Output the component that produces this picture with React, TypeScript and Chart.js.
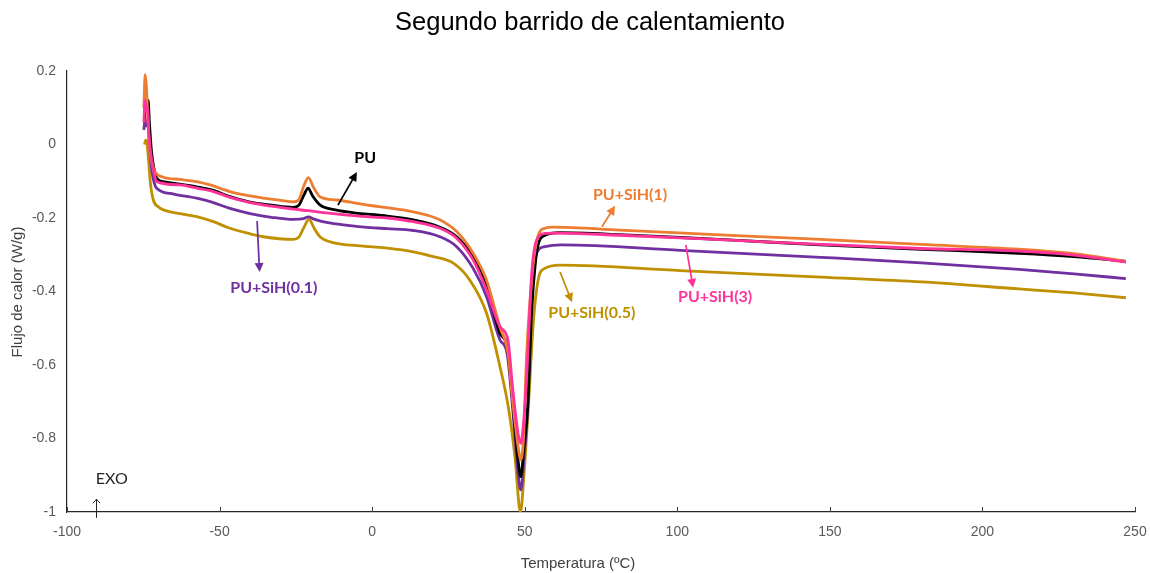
import { useEffect, useRef } from 'react';
import { Chart, registerables } from 'chart.js';

Chart.register(...registerables);

type Pt = [number, number];

// Titles and axis captions
const chartTitle = 'Segundo barrido de calentamiento';
const xAxisTitle = 'Temperatura (ºC)';
const yAxisTitle = 'Flujo de calor (W/g)';

// Axis ranges and tick steps
const xRange: Pt = [-100, 250];
const yRange: Pt = [-1, 0.2];
const xStep = 50;
const yStep = 0.2;

// Heat flow (W/g) against temperature (ºC), one list per sample
const puSiH3: Pt[] = [
  [-74.8, 0.06], [-74.4, 0.12], [-74.0, 0.09], [-73.6, 0.1], [-73.2, 0.03], [-72.3, -0.04],
  [-71.3, -0.085], [-70.6, -0.101], [-63, -0.11], [-57.5, -0.119], [-52, -0.128], [-46.6, -0.144],
  [-40, -0.158], [-33, -0.168], [-25.8, -0.176], [-21, -0.18], [-15, -0.186], [-8, -0.192],
  [-0.7, -0.197], [5, -0.2], [13.5, -0.21], [22.2, -0.228], [27.7, -0.255], [33.1, -0.314],
  [37.5, -0.396], [41.9, -0.496], [44.5, -0.532], [46, -0.659], [47.8, -0.786], [48.7, -0.813],
  [49.6, -0.76], [50.7, -0.623], [52.3, -0.35], [53.9, -0.26], [56.6, -0.242], [59.3, -0.241],
  [81, -0.247], [114, -0.259], [147, -0.272], [180, -0.283], [212, -0.29], [230, -0.301], [247, -0.32],
];

const puSiH1: Pt[] = [
  [-74.8, 0.1], [-74.4, 0.19], [-74.0, 0.16], [-73.5, 0.07], [-72.8, -0.02], [-71.8, -0.06],
  [-71.2, -0.074], [-68.4, -0.089], [-63, -0.095], [-57.5, -0.101], [-53.1, -0.11], [-46.6, -0.128],
  [-40, -0.14], [-35.7, -0.146], [-30, -0.152], [-25.8, -0.156], [-24, -0.15], [-22.5, -0.115],
  [-20.9, -0.09], [-19.3, -0.115], [-17.1, -0.142], [-11.6, -0.151], [-5, -0.16], [-0.7, -0.166],
  [6, -0.173], [13.5, -0.183], [18, -0.192], [22.2, -0.205], [27.7, -0.237], [33.1, -0.296],
  [37.5, -0.369], [40.3, -0.45], [42, -0.5], [44.5, -0.567], [46, -0.695], [47.8, -0.82],
  [48.7, -0.858], [49.6, -0.8], [50.6, -0.577], [52.7, -0.332], [54.3, -0.251], [56.6, -0.228],
  [59.3, -0.225], [81, -0.233], [114, -0.246], [147, -0.258], [180, -0.272], [212, -0.285],
  [230, -0.297], [247, -0.318],
];

const pu: Pt[] = [
  [-74.6, 0.07], [-74.3, 0.14], [-73.9, 0.1], [-73.4, 0.12], [-73.0, 0.06], [-72.3, -0.02],
  [-71.5, -0.065], [-70.6, -0.092], [-68, -0.102], [-63, -0.108], [-57.5, -0.115], [-52, -0.125],
  [-46.6, -0.142], [-40, -0.157], [-33, -0.165], [-26, -0.171], [-24, -0.165], [-22.5, -0.14],
  [-21, -0.119], [-19.5, -0.14], [-17, -0.165], [-12, -0.178], [-6, -0.186], [-0.7, -0.19],
  [5, -0.195], [13.5, -0.205], [22.2, -0.225], [27.7, -0.251], [33.1, -0.305], [37.5, -0.387],
  [41.9, -0.514], [44.2, -0.55], [46, -0.695], [47.8, -0.858], [48.7, -0.904], [49.8, -0.82],
  [51, -0.713], [52.3, -0.45], [53.4, -0.33], [54.5, -0.27], [56.5, -0.248], [61.5, -0.24],
  [81, -0.245], [101, -0.253], [120, -0.261], [147, -0.273], [180, -0.285], [212, -0.296],
  [230, -0.305], [247, -0.318],
];

const puSiH01: Pt[] = [
  [-74.8, 0.04], [-74.4, 0.07], [-74.0, 0.05], [-73.5, 0.06], [-73.0, 0.0], [-72.2, -0.07],
  [-71.4, -0.105], [-70.6, -0.119], [-65, -0.135], [-57.5, -0.146], [-52, -0.158], [-46.6, -0.174],
  [-40, -0.188], [-33, -0.198], [-25.8, -0.204], [-22.5, -0.202], [-20.9, -0.197], [-19, -0.203],
  [-15, -0.212], [-8, -0.22], [-0.7, -0.226], [5, -0.229], [13.5, -0.234], [22.2, -0.251],
  [27.7, -0.278], [33.1, -0.337], [37.5, -0.414], [41.9, -0.532], [44.2, -0.567], [46, -0.713],
  [47.8, -0.894], [48.7, -0.94], [49.8, -0.85], [51, -0.713], [52.3, -0.396], [53.9, -0.296],
  [56.6, -0.278], [62, -0.273], [101, -0.288], [147, -0.307], [180, -0.322], [212, -0.34],
  [230, -0.352], [247, -0.365],
];

const puSiH05: Pt[] = [
  [-74.6, 0.0], [-74.2, 0.012], [-73.8, 0.005], [-73.3, -0.04], [-72.6, -0.11], [-71.7, -0.151],
  [-70, -0.17], [-68.4, -0.178], [-63, -0.188], [-57.5, -0.196], [-52, -0.21], [-46.6, -0.228],
  [-40, -0.243], [-35.7, -0.251], [-25.8, -0.258], [-24, -0.252], [-22.5, -0.228], [-20.7, -0.204],
  [-19, -0.228], [-17.1, -0.251], [-11.6, -0.269], [-5, -0.275], [-0.7, -0.278], [5, -0.282],
  [13.5, -0.292], [20, -0.305], [26.6, -0.323], [32, -0.369], [37.5, -0.459], [41.9, -0.605],
  [44.6, -0.713], [46.8, -0.85], [48.6, -1.0], [49.8, -0.894], [51.2, -0.713], [52.8, -0.487],
  [54.4, -0.369], [56.6, -0.337], [61.5, -0.328], [101, -0.343], [147, -0.361], [180, -0.374],
  [212, -0.393], [230, -0.404], [247, -0.417],
];

const seriesNames = ['PU+SiH(3)', 'PU+SiH(1)', 'PU', 'PU+SiH(0.1)', 'PU+SiH(0.5)'];
const seriesColors = ['#FF3399', '#ED7D31', '#000000', '#7030A0', '#BF9000'];
const seriesData = [puSiH3, puSiH1, pu, puSiH01, puSiH05];

// Curve labels: text centre, arrow tail and arrow head, all in data units
const labelTexts = ['PU', 'PU+SiH(1)', 'PU+SiH(0.1)', 'PU+SiH(0.5)', 'PU+SiH(3)'];
const labelColors = ['#000000', '#ED7D31', '#7030A0', '#BF9000', '#FF3399'];
const labelAt: Pt[] = [[-2.3, -0.037], [84.5, -0.137], [-32.2, -0.39], [72.0, -0.458], [112.4, -0.415]];
const arrowFrom: Pt[] = [[-11.2, -0.165], [75.3, -0.224], [-37.7, -0.208], [61.6, -0.347], [102.8, -0.273]];
const arrowTo: Pt[] = [[-5.0, -0.075], [79.6, -0.167], [-36.9, -0.347], [65.5, -0.429], [105.2, -0.39]];

// Exotherm direction marker
const exoText = 'EXO';
const exoLabelAt: Pt = [-85.3, -0.91];
const exoArrowFrom: Pt = [-90.5, -1.016];
const exoArrowTo: Pt = [-90.5, -0.965];

const tickFont = "'Liberation Sans', Arial, sans-serif";

function drawArrow(ctx: CanvasRenderingContext2D, x1: number, y1: number, x2: number, y2: number, color: string) {
  const ang = Math.atan2(y2 - y1, x2 - x1);
  const head = 9;
  const half = 4.5;
  ctx.save();
  ctx.strokeStyle = color;
  ctx.fillStyle = color;
  ctx.lineWidth = 1.75;
  ctx.beginPath();
  ctx.moveTo(x1, y1);
  ctx.lineTo(x2 - Math.cos(ang) * head * 0.8, y2 - Math.sin(ang) * head * 0.8);
  ctx.stroke();
  ctx.beginPath();
  ctx.moveTo(x2, y2);
  ctx.lineTo(x2 - Math.cos(ang) * head + Math.sin(ang) * half, y2 - Math.sin(ang) * head - Math.cos(ang) * half);
  ctx.lineTo(x2 - Math.cos(ang) * head - Math.sin(ang) * half, y2 - Math.sin(ang) * head + Math.cos(ang) * half);
  ctx.closePath();
  ctx.fill();
  ctx.restore();
}

const decorations = {
  id: 'decorations',
  afterDraw(chart: any) {
    const { ctx, chartArea } = chart;
    const xs = chart.scales.x;
    const ys = chart.scales.y;
    const px = (p: Pt) => [xs.getPixelForValue(p[0]), ys.getPixelForValue(p[1])];

    ctx.save();
    // inward tick marks on the temperature axis
    ctx.strokeStyle = '#404040';
    ctx.lineWidth = 1;
    for (let v = xRange[0]; v <= xRange[1]; v += xStep) {
      const x = Math.round(xs.getPixelForValue(v)) + 0.5;
      ctx.beginPath();
      ctx.moveTo(x, chartArea.bottom);
      ctx.lineTo(x, chartArea.bottom - 5);
      ctx.stroke();
    }

    // title
    ctx.fillStyle = '#000000';
    ctx.textAlign = 'center';
    ctx.textBaseline = 'middle';
    ctx.font = `25.5px ${tickFont}`;
    ctx.fillText(chartTitle, 590, 23);

    // axis titles
    ctx.fillStyle = '#404040';
    ctx.font = `15px ${tickFont}`;
    ctx.fillText(xAxisTitle, 578, 564);
    ctx.save();
    ctx.translate(18, 292);
    ctx.rotate(-Math.PI / 2);
    ctx.fillText(yAxisTitle, 0, 0);
    ctx.restore();

    // curve labels with arrows
    for (let i = 0; i < labelTexts.length; i++) {
      const [fx, fy] = px(arrowFrom[i]);
      const [tx, ty] = px(arrowTo[i]);
      drawArrow(ctx, fx, fy, tx, ty, labelColors[i]);
      const [lx, ly] = px(labelAt[i]);
      ctx.fillStyle = labelColors[i];
      ctx.font = "bold 16px Lato, 'Open Sans', sans-serif";
      ctx.textAlign = 'center';
      ctx.textBaseline = 'middle';
      ctx.fillText(labelTexts[i], lx, ly);
    }

    // EXO marker
    const [ex, ey] = px(exoLabelAt);
    ctx.fillStyle = '#262626';
    ctx.font = "16px Lato, 'Open Sans', sans-serif";
    ctx.fillText(exoText, ex, ey);
    const [ax1, ay1] = px(exoArrowFrom);
    const [ax2, ay2] = px(exoArrowTo);
    ctx.strokeStyle = '#262626';
    ctx.lineWidth = 1;
    ctx.beginPath();
    ctx.moveTo(Math.round(ax1) + 0.5, ay1);
    ctx.lineTo(Math.round(ax2) + 0.5, ay2);
    ctx.moveTo(Math.round(ax2) + 0.5 - 3.5, ay2 + 4);
    ctx.lineTo(Math.round(ax2) + 0.5, ay2);
    ctx.lineTo(Math.round(ax2) + 0.5 + 3.5, ay2 + 4);
    ctx.stroke();
    ctx.restore();
  },
};

export default function App() {
  const canvasRef = useRef<HTMLCanvasElement>(null);

  useEffect(() => {
    if (!canvasRef.current) return;
    const chart = new Chart(canvasRef.current, {
      type: 'scatter',
      data: {
        datasets: seriesData.map((d, i) => ({
          label: seriesNames[i],
          data: d.map(([x, y]) => ({ x, y })),
          showLine: true,
          borderColor: seriesColors[i],
          backgroundColor: seriesColors[i],
          borderWidth: 2.8,
          pointRadius: 0,
          cubicInterpolationMode: 'monotone' as const,
        })),
      },
      options: {
        animation: false,
        responsive: false,
        layout: { padding: { top: 71, right: 15, bottom: 0, left: 0 } },
        plugins: {
          legend: { display: false },
          title: { display: false },
          tooltip: { enabled: false },
        },
        scales: {
          x: {
            type: 'linear',
            min: xRange[0],
            max: xRange[1],
            afterFit: (s: any) => {
              s.height = 61;
              s.paddingLeft = 0;
              s.paddingRight = 0;
            },
            ticks: {
              stepSize: xStep,
              padding: 12,
              color: '#595959',
              font: { family: tickFont, size: 14 },
              maxRotation: 0,
            },
            grid: { display: false, drawTicks: false },
            border: { display: true, color: '#262626', width: 1.2 },
          },
          y: {
            type: 'linear',
            min: yRange[0],
            max: yRange[1],
            afterFit: (s: any) => {
              s.width = 67;
              s.paddingTop = 0;
              s.paddingBottom = 0;
            },
            ticks: {
              stepSize: yStep,
              padding: 11,
              color: '#595959',
              font: { family: tickFont, size: 14 },
              callback: (v: any) => String(Number(Number(v).toFixed(1))),
            },
            grid: { display: false, drawTicks: false },
            border: { display: true, color: '#262626', width: 1.2 },
          },
        },
      },
      plugins: [decorations],
    });
    return () => chart.destroy();
  }, []);

  return (
    <div style={{ position: 'absolute', left: 0, top: 0, width: 1150, height: 573, background: '#fff' }}>
      <canvas ref={canvasRef} width={1150} height={573} />
    </div>
  );
}
